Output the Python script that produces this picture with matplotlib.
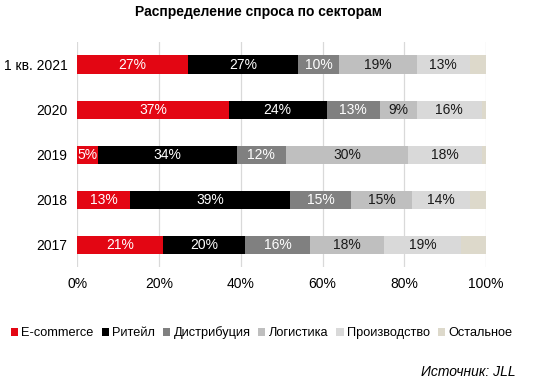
import numpy as np
import matplotlib
matplotlib.use('Agg')
import matplotlib.pyplot as plt

plt.rcParams['font.family'] = ['Liberation Sans', 'DejaVu Sans']

# data
periods = ['1 кв. 2021', '2020', '2019', '2018', '2017']
sectors = ['E-commerce', 'Ритейл', 'Дистрибуция', 'Логистика', 'Производство', 'Остальное']
ecommerce = [27, 37, 5, 13, 21]
retail = [27, 24, 34, 39, 20]
distrib = [10, 13, 12, 15, 16]
logistics = [19, 9, 30, 15, 18]
production = [13, 16, 18, 14, 19]
other = [4, 1, 1.5, 4, 6]
colors = ['#E30613', '#000000', '#808080', '#BFBFBF', '#D9D9D9', '#DDD9CB']
text_colors = ['white', 'white', 'white', '#1a1a1a', '#1a1a1a', None]

series = [ecommerce, retail, distrib, logistics, production, other]

fig = plt.figure(figsize=(5.5, 3.88), dpi=100)
ax = fig.add_axes([0.1406, 0.3106, 0.743, 0.58])

y = np.arange(len(periods))
left = np.zeros(len(periods))
for vals, name, col, tcol in zip(series, sectors, colors, text_colors):
    vals = np.array(vals, dtype=float)
    ax.barh(y, vals, left=left, height=0.42, color=col, label=name, zorder=2)
    if tcol is not None:
        for yi, l, v in zip(y, left, vals):
            ax.text(l + v / 2, yi, '%d%%' % round(v), ha='center', va='center',
                    color=tcol, fontsize=10, zorder=3)
    left += vals

ax.set_xlim(0, 100)
ax.set_ylim(len(periods) - 0.5, -0.5)
ax.set_yticks(y)
ax.set_yticklabels(periods, fontsize=10)
ax.set_xticks(np.arange(0, 101, 20))
ax.set_xticklabels(['%d%%' % v for v in range(0, 101, 20)], fontsize=10)
ax.tick_params(length=0)
ax.tick_params(axis='x', pad=7)
ax.tick_params(axis='y', pad=7)
ax.grid(axis='x', color='#D9D9D9', lw=0.9, zorder=0)
for s in ax.spines.values():
    s.set_visible(False)

fig.text(0.47, 0.968, 'Распределение спроса по секторам', ha='center', va='center',
         fontsize=10, fontweight='bold')

fig.legend(loc='center', bbox_to_anchor=(0.476, 0.142), ncol=6, frameon=False,
           fontsize=9.2, handlelength=0.55, handleheight=0.55, handletextpad=0.3,
           columnspacing=0.6, borderaxespad=0)

fig.text(0.938, 0.04, 'Источник: JLL', ha='right', va='center', fontsize=10,
         style='italic')

fig.savefig('out.png', dpi=100)
